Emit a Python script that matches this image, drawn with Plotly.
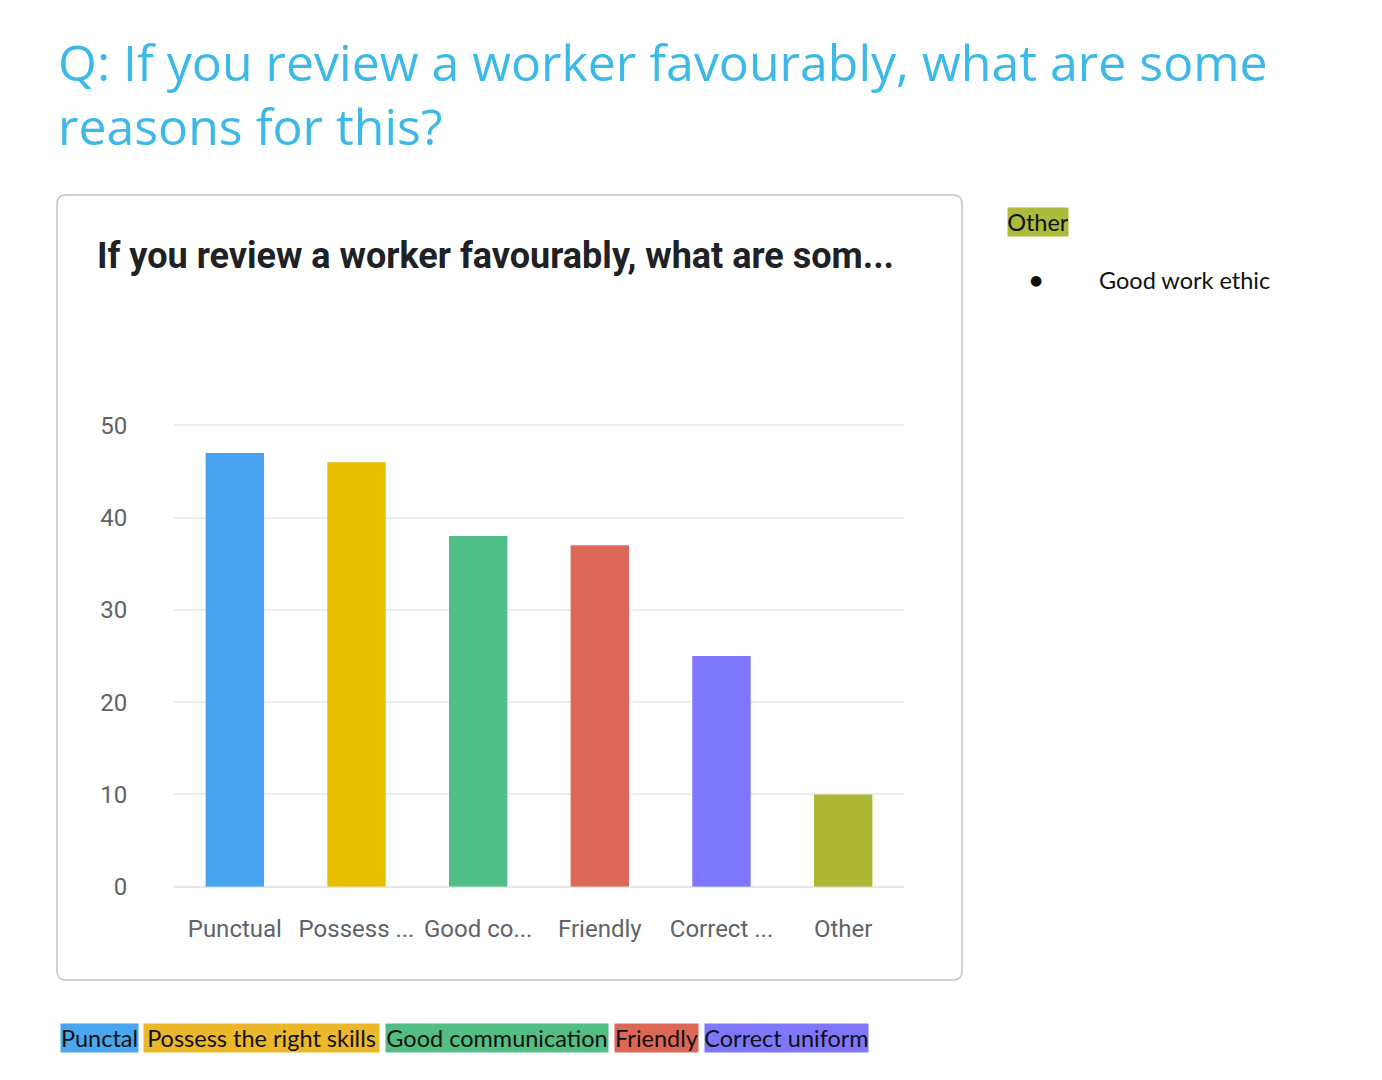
import plotly.graph_objects as go

# ---- data ----
categories = ["Punctual", "Possess the right skills", "Good communication",
              "Friendly", "Correct uniform", "Other"]
tick_labels = ["Punctual", "Possess ...", "Good co...", "Friendly", "Correct ...", "Other"]
values = [47, 46, 38, 37, 25, 10]
bar_colors = ["#47a3f0", "#e8c000", "#50bf87", "#dd6859", "#7f76fe", "#abb733"]
legend_labels = ["Punctal", "Possess the right skills", "Good communication",
                 "Friendly", "Correct uniform"]
legend_colors = ["#4aa6ee", "#ebb72b", "#52be84", "#dd6757", "#7f77fb"]
other_label = "Other"
other_color = "#adbb3a"
other_items = ["Good work ethic"]
y_ticks = [0, 10, 20, 30, 40, 50]

W, H = 1382, 1080


def px(x):
    return x / W


def py(y):
    return 1 - y / H


fig = go.Figure()
fig.add_trace(go.Bar(
    x=categories, y=values, marker=dict(color=bar_colors, line=dict(width=0)),
    hoverinfo="x+y", showlegend=False,
))

# rounded card border
x0, x1, y0, y1, r = 57, 962, 195, 980, 9
rx, ry = r / W, r / H
path = (f"M {px(x0)+rx},{py(y0)} L {px(x1)-rx},{py(y0)} Q {px(x1)},{py(y0)} {px(x1)},{py(y0)-ry} "
        f"L {px(x1)},{py(y1)+ry} Q {px(x1)},{py(y1)} {px(x1)-rx},{py(y1)} "
        f"L {px(x0)+rx},{py(y1)} Q {px(x0)},{py(y1)} {px(x0)},{py(y1)+ry} "
        f"L {px(x0)},{py(y0)-ry} Q {px(x0)},{py(y0)} {px(x0)+rx},{py(y0)} Z")
fig.add_shape(type="path", path=path, xref="paper", yref="paper",
              line=dict(color="#c4c4c4", width=1.5), fillcolor="rgba(0,0,0,0)", layer="below")

ann = []
title_font = dict(family="Open Sans", size=50, color="#3cb9e6", weight=400)
ann.append(dict(text="Q: If you review a worker favourably, what are some", x=px(56), y=py(62),
                xanchor="left", yanchor="middle", font=title_font))
ann.append(dict(text="reasons for this?", x=px(56), y=py(126),
                xanchor="left", yanchor="middle", font=title_font))
ann.append(dict(text="<b>If you review a worker favourably, what are som...</b>", x=px(95), y=py(256),
                xanchor="left", yanchor="middle",
                font=dict(family="Roboto", size=36, color="#202124")))

# bottom colour key
key_font = dict(family="Lato", size=23.5, color="#111111")
box_x = [60, 143, 385, 614, 704]
box_w = [77, 235, 222, 83, 163]
for lab, col, bx, bw in zip(legend_labels, legend_colors, box_x, box_w):
    ann.append(dict(text=lab, x=px(bx), y=py(1038), xanchor="left", yanchor="middle",
                    width=bw, height=28, bgcolor=col, borderpad=0, align="center",
                    font=key_font))

ann.append(dict(text=other_label, x=px(1007), y=py(222), xanchor="left", yanchor="middle",
                width=60, height=28, bgcolor=other_color, borderpad=0, align="center",
                font=key_font))
for i, item in enumerate(other_items):
    ann.append(dict(text="●", x=px(1036), y=py(280 + 40 * i), xanchor="center", yanchor="middle",
                    font=dict(family="DejaVu Sans", size=14, color="#111111")))
    ann.append(dict(text=item, x=px(1097), y=py(280 + 40 * i), xanchor="left", yanchor="middle",
                    font=key_font))

for a in ann:
    a.setdefault("xref", "paper")
    a.setdefault("yref", "paper")
    a.setdefault("showarrow", False)

axis_font = dict(family="Roboto", size=24, color="#5f6368")
fig.update_layout(
    width=W, height=H, autosize=False,
    margin=dict(l=0, r=0, t=0, b=0, autoexpand=False),
    paper_bgcolor="white", plot_bgcolor="white",
    bargap=0.52,
    showlegend=False,
    annotations=ann,
    xaxis=dict(domain=[px(174), px(904)], tickmode="array", tickvals=categories,
               ticktext=tick_labels, ticks="outside", ticklen=20, tickcolor="rgba(0,0,0,0)",
               showgrid=False, showline=False, zeroline=False, automargin=False,
               tickfont=axis_font),
    yaxis=dict(domain=[py(886.7), py(416.1)], range=[0, 51], tickvals=y_ticks,
               ticks="outside", ticklen=41, tickcolor="rgba(0,0,0,0)",
               showgrid=True, gridcolor="#ececec", gridwidth=1.5, automargin=False,
               zeroline=True, zerolinecolor="#e6e6e6", zerolinewidth=1.5, showline=False,
               tickfont=axis_font),
    font=dict(family="Roboto"),
)

fig.write_html(
    "out.html",
    config={"displayModeBar": False},
    post_script=("document.body.style.margin='0';"
                 "var d=document.getElementsByClassName('plotly-graph-div')[0];"
                 "d.style.position='fixed';d.style.top='0px';d.style.left='0px';"),
)
